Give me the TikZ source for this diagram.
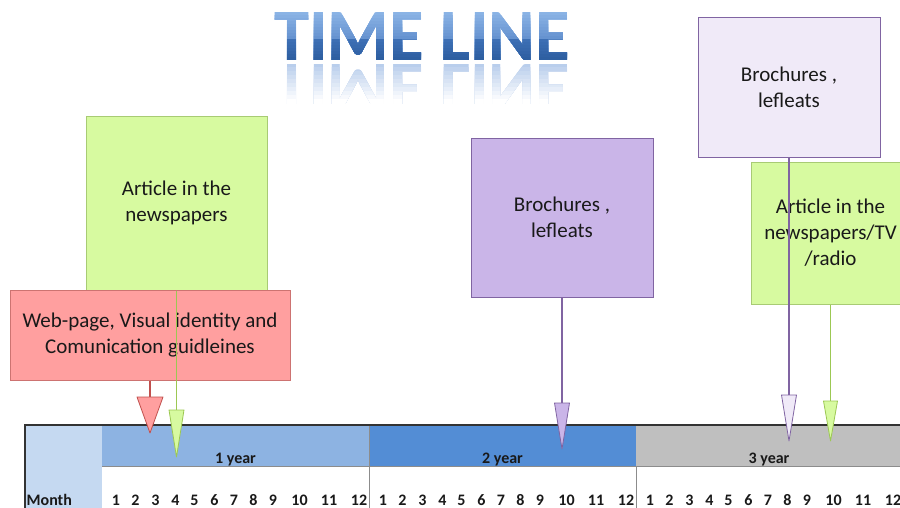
\documentclass[tikz,border=0pt]{standalone}
\usepackage{fontspec}
\setmainfont{Carlito}
\usetikzlibrary{shadows}
\definecolor{monthF}{HTML}{C5D9F1}
\definecolor{yearA}{HTML}{8DB3E2}
\definecolor{yearB}{HTML}{538DD5}
\definecolor{yearC}{HTML}{BFBFBF}
\definecolor{greenF}{HTML}{D7FAA0}
\definecolor{greenE}{HTML}{A8CB74}
\definecolor{greenL}{HTML}{9CC853}
\definecolor{redF}{HTML}{FF9F9F}
\definecolor{redE}{HTML}{C0504D}
\definecolor{purpF}{HTML}{CAB5E8}
\definecolor{purpE}{HTML}{8064A2}
\definecolor{lavF}{HTML}{F0EAF8}
\definecolor{tA}{HTML}{8AB3E5}
\definecolor{tB}{HTML}{6693D0}
\definecolor{tC}{HTML}{3D6FB4}
\definecolor{tD}{HTML}{2B5C9E}
\definecolor{rA}{HTML}{B9CEEC}
\newcommand\titlefont{\fontsize{74}{74}\selectfont\bfseries}
\newcommand\boxfont{\fontsize{21}{26}\selectfont}
\newcommand\tabfont{\fontsize{16}{19}\selectfont\bfseries}
\newcommand\ttl{\scalebox{0.955}[1]{TIME LINE}}
\begin{document}
\begin{tikzpicture}[x=1pt,y=-1pt,
  tbox/.style={draw, line width=1pt, align=center, inner sep=2pt, font=\boxfont, text=black!90,
    drop shadow={shadow xshift=1.2pt, shadow yshift=-1.2pt, opacity=0.35, fill=black!60}},
  stem/.style={line width=1.4pt, draw=#1},
  headtri/.style 2 args={fill=#1, draw=#2, line width=0.8pt, line join=round},
  tstyle/.style={inner sep=0pt, font=\titlefont},
  tablab/.style={inner sep=0pt, font=\tabfont, text=black!90, anchor=base},
  gridln/.style={draw=black!45, line width=0.8pt},
  border/.style={draw=black!80, line width=1.8pt}]
\useasboundingbox (0,0) rectangle (900,507);

% ---- title (banded gradient, each band overlays everything below it) ----
\foreach \i in {0,...,8} {
  \pgfmathtruncatemacro\p{100*\i/8}
  \begin{scope}
    \clip (260,{12+3*\i}) rectangle (590,64);
    \node[tstyle, text=tB!\p!tA] (ta\i) at (422,37) {\ttl};
  \end{scope}
}
\foreach \i in {0,...,7} {
  \pgfmathtruncatemacro\p{100*\i/7}
  \begin{scope}
    \clip (260,{39+3*\i}) rectangle (590,64);
    \node[tstyle, text=tD!\p!tC] (tb\i) at (422,37) {\ttl};
  \end{scope}
}
\foreach \i in {0,...,9} {
  \pgfmathtruncatemacro\p{100*\i/9}
  \begin{scope}
    \clip (260,{63+4*\i}) rectangle (590,115);
    \begin{scope}[shift={(422,88)}, yscale=-1]
      \node[tstyle, transform shape, text=white!\p!rA] (tr\i) at (0,0) {\ttl};
    \end{scope}
  \end{scope}
}
\fill[white] (260,104) rectangle (590,116);

% ---- boxes ----
\node[tbox, fill=greenF, draw=greenE, minimum width=181pt, minimum height=174pt] (art1) at (176.5,203) {Article in the\\newspapers};
\node[tbox, fill=redF, draw=redE!80, minimum width=280pt, minimum height=90pt] (web) at (150,335) {Web-page, Visual identity and\\Comunication guidleines};
\node[tbox, fill=purpF, draw=purpE, minimum width=182pt, minimum height=159pt] (bro1) at (562,217.5) {Brochures ,\\lefleats};
\node[tbox, fill=lavF, draw=purpE, minimum width=182pt, minimum height=140pt] (bro2) at (789,87) {Brochures ,\\lefleats};
\node[tbox, fill=greenF, draw=greenE, minimum width=159pt, minimum height=142pt] (art2) at (830.5,233) {Article in the\\newspapers/TV\\/radio};

% ---- table ----
\fill[monthF] (25,425) rectangle (102,510);
\fill[yearA] (102,425) rectangle (369,466);
\fill[yearB] (369,425) rectangle (636,466);
\fill[yearC] (636,425) rectangle (905,466);
\draw[gridln] (102,466) -- (905,466);
\draw[gridln] (369,425) -- (369,510);
\draw[gridln] (636,466) -- (636,510);
\draw[border] (25,510) -- (25,425) -- (905,425);
\node[tablab] (y1) at (235.5,463) {1 year};
\node[tablab] (y2) at (502.5,463) {2 year};
\node[tablab] (y3) at (769,463) {3 year};
\node[tablab, anchor=base west] (month) at (26.5,505.5) {Month};
\foreach \s/\yy in {102/1,369/2,636/3} {
  \foreach \n/\o in {1/14,2/33.5,3/53.5,4/73.5,5/92.5,6/112.5,7/132,8/151.5,9/171,10/197.5,11/227,12/257} {
    \node[tablab] (m\yy-\n) at ({\s+\o},505.5) {\n};
  }
}

% ---- connectors ----
\coordinate (h1) at (150,397);
\coordinate (h2) at (176.5,410);
\coordinate (h3) at (562,403);
\coordinate (h4) at (789,395);
\coordinate (h5) at (830.5,401);
\draw[stem=redE] (web.south) -- (h1);
\draw[stem=greenL] (art1.south) -- (h2);
\draw[stem=purpE] (bro1.south) -- (h3);
\draw[stem=purpE] (bro2.south) -- (h4);
\draw[stem=greenL] (art2.south) -- (h5);
\draw[headtri={redF}{redE}] ([xshift=-13pt]h1) -- ([xshift=13pt]h1) -- ([yshift=-36pt]h1) -- cycle;
\draw[headtri={greenF}{greenL}] ([xshift=-7.5pt]h2) -- ([xshift=7.5pt]h2) -- ([yshift=-47pt]h2) -- cycle;
\draw[headtri={purpF}{purpE}] ([xshift=-7.5pt]h3) -- ([xshift=7.5pt]h3) -- ([yshift=-46pt]h3) -- cycle;
\draw[headtri={lavF}{purpE}] ([xshift=-7.5pt]h4) -- ([xshift=7.5pt]h4) -- ([yshift=-46pt]h4) -- cycle;
\draw[headtri={greenF}{greenL}] ([xshift=-7pt]h5) -- ([xshift=7pt]h5) -- ([yshift=-40pt]h5) -- cycle;
\end{tikzpicture}
\end{document}
